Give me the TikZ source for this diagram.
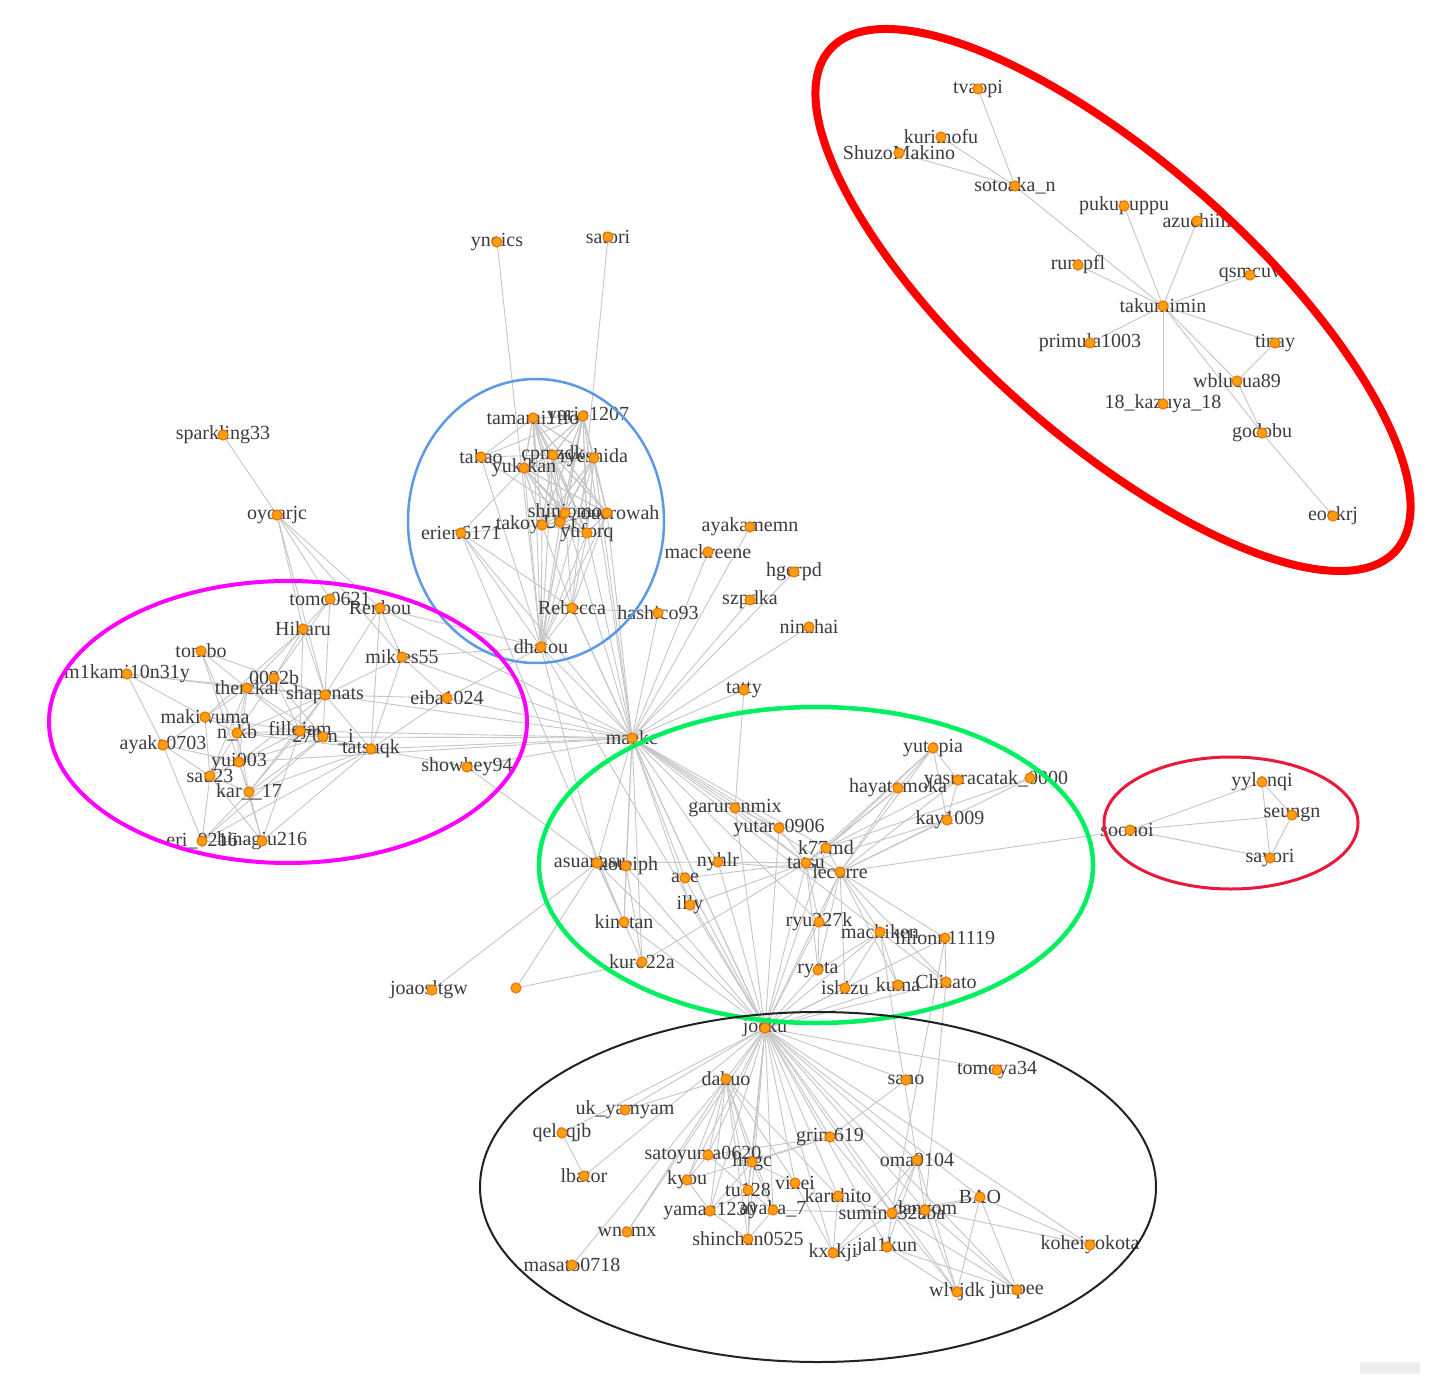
\documentclass[tikz,border=0pt]{standalone}
\usepackage{fontspec}
\setmainfont{Liberation Serif}
\definecolor{edgegray}{HTML}{C6C6C6}
\definecolor{lblgray}{HTML}{3C3C3C}
\definecolor{dotfill}{HTML}{FF9F10}
\definecolor{dotdraw}{HTML}{F07800}
\definecolor{bigred}{HTML}{FF0000}
\definecolor{smallred}{HTML}{E8193C}
\definecolor{bluec}{HTML}{5B9BE6}
\definecolor{magc}{HTML}{FF00FF}
\definecolor{greenc}{HTML}{00F060}
\definecolor{blackc}{HTML}{222222}
\tikzset{
  edge/.style={draw=edgegray, line width=0.9pt},
  lbl/.style={inner sep=0pt, text=lblgray, font=\fontsize{20}{20}\selectfont},
  dot/.style={circle, fill=dotfill, draw=dotdraw, line width=1.2pt, inner sep=0pt, minimum size=10pt},
  ring/.style={fill=none}
}
\begin{document}
\begin{tikzpicture}[x=1pt,y=-1pt]
\useasboundingbox (0,0) rectangle (1440,1396);
\fill[white] (0,0) rectangle (1440,1396);
% ---------- vertex positions ----------
\foreach \n/\x/\y in {
 tvaopi/978/89, kurimofu/941/137, shuzo/899/153, sotoaka/1015/186, pukupuppu/1124/206,
 azuchiiii/1197/221, rumpfl/1078/265, qsmcuv/1250/275, takumimin/1163/306, primula/1090/343,
 tinay/1275/343, wblucua/1237/381, kazuya/1163/404, godobu/1262/433, eoekrj/1333/516,
 ynoics/497/242, satori/608/237, tamami/533/418, yurio/583/416, takao/481/457, cpmzdk/553/455,
 ryoshida/594/458, yukikan/524/468, shinjo/565/513, ouerowah/607/513, takoy/542/525, uct/560/522,
 yuforq/587/533, erien/461/533, rebecca/572/608, hashico/658/613, dhatou/541/647,
 ayakamemn/750/527, mackreene/708/552, hgerpd/794/572, szpdka/750/600, ninzhai/809/627,
 tatty/744/690, maekc/632/738,
 sparkling/223/435, oyoarjc/277/515, tomo/330/599, renbou/380/608, hikaru/303/629, tombo/201/651,
 mikles/402/657, mkam/127/674, nb/274/678, therc/247/688, shapenats/325/695, eiba/447/698,
 makiwuma/205/717, nkb/237/733, fillojam/300/731, imtw/323/737, tatsuqk/371/749, ayakaa/163/745,
 yuri/239/762, showhey/467/767, sau/210/776, kar/249/792, eri/202/841, hinagi/262/841,
 yutopia/933/748, yasura/958/780, yzero/1030/778, hayato/898/788, kay/947/820, garurun/735/808,
 yutaro/779/828, kmd/826/848, tatsu/806/863, lecorre/840/872, nyhlr/718/862, asua/597/863,
 kotei/626/866, ane/685/878, illy/690/905, kinetan/624/922, ryu/819/922, machiken/880/932,
 lilionn/945/938, kuro/642/962, ryota/818/970, ishizu/845/988, kuma/898/985, chisato/946/982,
 joao/432/990, lone/516/988, jocku/765/1028,
 soonoi/1130/830, yylonqi/1262/782, seungn/1292/815, sayori/1270/858,
 tomoya/997/1070, dahuo/726/1079, sano/906/1080, ukyam/625/1110, qelaqjb/562/1133, grim/830/1137,
 satoyuma/708/1155, lingc/752/1162, oma/917/1160, lbator/584/1176, kyou/687/1180, vinei/795/1183,
 tu/748/1190, karuhito/838/1196, bao/980/1197, yaman/710/1211, ayakas/773/1210, sumino/892/1213,
 danyom/925/1210, wnamx/627/1232, shinchan/748/1239, kxskji/833/1253, jalkun/887/1247,
 kohei/1090/1245, masato/572/1265, wlvjdk/957/1292, junpee/1017/1290}
 {\coordinate (\n) at (\x,\y);}
% ---------- connectors ----------
% red cluster
\foreach \a/\b in {tvaopi/sotoaka, kurimofu/sotoaka, shuzo/sotoaka, sotoaka/takumimin,
 pukupuppu/takumimin, azuchiiii/takumimin, rumpfl/takumimin, qsmcuv/takumimin,
 primula/takumimin, tinay/takumimin, wblucua/takumimin, kazuya/takumimin, godobu/takumimin,
 tinay/wblucua, wblucua/godobu, godobu/eoekrj}
 {\draw[edge] (\a) -- (\b);}
% small red cluster
\foreach \a/\b in {soonoi/yylonqi, soonoi/seungn, soonoi/sayori, yylonqi/seungn,
 yylonqi/sayori, seungn/sayori, soonoi/lecorre}
 {\draw[edge] (\a) -- (\b);}
% blue cluster core
\foreach \a in {tamami,yurio,cpmzdk,ryoshida,yukikan,shinjo,ouerowah,takoy,uct,yuforq}
 {\foreach \b in {tamami,yurio,cpmzdk,ryoshida,yukikan,shinjo,ouerowah,takoy,uct,yuforq,dhatou}
   {\draw[edge] (\a) -- (\b);}}
\foreach \a/\b in {ynoics/dhatou, satori/rebecca, takao/cpmzdk, takao/yukikan, takao/shinjo,
 takao/yurio, takao/dhatou, takao/tamami, erien/takoy, erien/dhatou, erien/maekc, erien/rebecca,
 erien/yukikan, erien/kinetan, ouerowah/maekc, yuforq/maekc, shinjo/maekc, ryoshida/maekc,
 yurio/maekc, yuforq/rebecca, ouerowah/rebecca, takoy/rebecca, shinjo/rebecca,
 rebecca/hashico, rebecca/dhatou, rebecca/maekc, hashico/maekc, dhatou/maekc, dhatou/jocku,
 dhatou/asua, rebecca/jocku}
 {\draw[edge] (\a) -- (\b);}
% hub maekc
\foreach \b in {ayakamemn, mackreene, hgerpd, szpdka, ninzhai, tatty, garurun, yutaro, kmd,
 tatsu, lecorre, nyhlr, asua, kotei, kinetan, kuro, ane, illy, jocku, ryu, machiken, tatsuqk,
 shapenats, eiba, mikles, showhey, imtw, fillojam, yuri, renbou}
 {\draw[edge] (maekc) -- (\b);}
% magenta cluster
\foreach \a/\b in {sparkling/oyoarjc, oyoarjc/tomo, oyoarjc/hikaru, oyoarjc/renbou,
 oyoarjc/shapenats, oyoarjc/mikles, tomo/hikaru, tomo/renbou, tomo/shapenats, tomo/nb,
 renbou/mikles, renbou/shapenats, renbou/tatsuqk, renbou/dhatou, hikaru/therc, hikaru/shapenats,
 hikaru/nb, hikaru/makiwuma, hikaru/fillojam, tombo/therc, tombo/shapenats, tombo/nkb, tombo/yuri,
 mkam/therc, mkam/ayakaa, mkam/makiwuma, mkam/shapenats, nb/therc, nb/shapenats, nb/fillojam,
 nb/nkb, nb/imtw, therc/shapenats, therc/makiwuma, therc/nkb, therc/fillojam, therc/imtw,
 therc/yuri, therc/sau, shapenats/fillojam, shapenats/imtw, shapenats/tatsuqk, shapenats/nkb,
 shapenats/mikles, shapenats/eiba, shapenats/yuri, shapenats/kar, eiba/tatsuqk, makiwuma/nkb,
 makiwuma/ayakaa, makiwuma/fillojam, makiwuma/sau, nkb/fillojam, nkb/imtw, nkb/yuri, nkb/sau,
 nkb/kar, nkb/tatsuqk, fillojam/imtw, fillojam/tatsuqk, fillojam/yuri, fillojam/kar,
 fillojam/hinagi, imtw/tatsuqk, imtw/yuri, imtw/kar, imtw/eri, tatsuqk/kar, tatsuqk/hinagi,
 tatsuqk/eri, tatsuqk/showhey, ayakaa/sau, ayakaa/yuri, ayakaa/eri, yuri/sau, yuri/kar,
 yuri/hinagi, sau/kar, sau/eri, sau/hinagi, kar/eri, kar/hinagi, eri/hinagi, mikles/tatsuqk,
 mikles/eiba, mikles/dhatou, eiba/dhatou, showhey/asua}
 {\draw[edge] (\a) -- (\b);}
% green cluster
\foreach \b in {yutopia, hayato, yasura, yzero, kay, ryu, machiken, lilionn, ryota, ishizu,
 kuma, chisato, nyhlr, tatsu, kmd}
 {\draw[edge] (lecorre) -- (\b);}
\foreach \a/\b in {tatsu/yutopia, tatsu/hayato, tatsu/kay, tatsu/ane, tatsu/illy, tatsu/kuro,
 tatsu/ryu, tatsu/ryota, tatsu/garurun, tatsu/yutaro, tatsu/kmd, kmd/hayato, kmd/yasura,
 kmd/yzero, kmd/yutopia, yutopia/hayato, yutopia/yasura, yutopia/kay, yasura/kay,
 lilionn/chisato, machiken/chisato, machiken/kuma, machiken/ishizu, machiken/lilionn,
 machiken/ryota, ryu/ryota, asua/kotei, asua/kinetan, asua/nyhlr, asua/kuro, kotei/kuro,
 kotei/kinetan, nyhlr/tatsu, garurun/yutaro, tatty/garurun, joao/asua, lone/asua, lone/kuro}
 {\draw[edge] (\a) -- (\b);}
% hub jocku
\foreach \b in {tatsu, lecorre, kmd, nyhlr, ane, illy, asua, kotei, ryu, ryota, ishizu, kuma,
 chisato, machiken, garurun, yutaro, lilionn, kinetan, dahuo, ukyam, qelaqjb, grim, satoyuma,
 lingc, oma, kyou, vinei, tu, karuhito, bao, yaman, ayakas, sumino, danyom, shinchan, kxskji,
 jalkun, tomoya, kohei, wlvjdk, junpee, wnamx, lbator, sano}
 {\draw[edge] (jocku) -- (\b);}
% black cluster
\foreach \a/\b in {dahuo/satoyuma, dahuo/lingc, dahuo/kyou, dahuo/tu, dahuo/yaman,
 dahuo/shinchan, dahuo/ayakas, dahuo/vinei, dahuo/karuhito, dahuo/wnamx, dahuo/masato,
 dahuo/ukyam, grim/lingc, grim/satoyuma, grim/kyou, grim/sumino, grim/sano, oma/sumino,
 oma/danyom, oma/kxskji, oma/wlvjdk, oma/jalkun, bao/sumino, bao/danyom, bao/kohei, bao/wlvjdk,
 bao/junpee, sumino/danyom, sumino/jalkun, sumino/wlvjdk, sumino/junpee, sumino/karuhito,
 sumino/ayakas, danyom/kohei, danyom/junpee, danyom/wlvjdk, jalkun/wlvjdk, jalkun/junpee,
 kxskji/karuhito, kxskji/sumino, kxskji/vinei, lbator/qelaqjb, satoyuma/lingc, satoyuma/kyou,
 satoyuma/tu, lingc/tu, lingc/vinei, lingc/yaman, lingc/ayakas, tu/ayakas, tu/shinchan,
 tu/yaman, shinchan/yaman, shinchan/ayakas, kyou/yaman, lilionn/sumino, chisato/danyom,
 machiken/oma}
 {\draw[edge] (\a) -- (\b);}
% ---------- labels ----------
\foreach \n/\dx/\t in {
 tvaopi/0/tvaopi, kurimofu/0/kurimofu, shuzo/0/ShuzoMakino, sotoaka/0/sotoaka\_n,
 pukupuppu/0/pukupuppu, azuchiiii/0/azuchiiii, rumpfl/0/rumpfl, qsmcuv/0/qsmcuv,
 takumimin/0/takumimin, primula/0/primula1003, tinay/0/tinay, wblucua/0/wblucua89,
 kazuya/0/18\_kazuya\_18, godobu/0/godobu, eoekrj/0/eoekrj,
 ynoics/0/ynoics, satori/0/satori, tamami/0/tamami1ffo, yurio/5/yurio1207, takao/0/takao,
 cpmzdk/0/cpmzdk, ryoshida/0/ryeshida, yukikan/0/yukikan, shinjo/0/shinjomo,
 ouerowah/13/ouerowah, takoy/-24/takoy, uct/0/UCt, yuforq/0/yuforq, erien/0/erien6171,
 rebecca/0/Rebecca, hashico/0/hashico93, dhatou/0/dhatou, ayakamemn/0/ayakamemn,
 mackreene/0/mackreene, hgerpd/0/hgerpd, szpdka/0/szpdka, ninzhai/0/ninzhai, tatty/0/tatty,
 maekc/0/maekc,
 sparkling/0/sparkling33, oyoarjc/0/oyoarjc, tomo/0/tomo0621, renbou/0/Renbou, hikaru/0/Hikaru,
 tombo/0/tombo, mikles/0/mikles55, mkam/0/m1kami10n31y, nb/0/0092b, therc/0/therckal,
 shapenats/0/shapenats, eiba/0/eiba1024, makiwuma/0/makiwuma, nkb/0/n\_kb, fillojam/0/fillojam,
 imtw/0/270m\_i, tatsuqk/0/tatsuqk, ayakaa/0/ayaka0703, yuri/0/yui003, showhey/0/showhey94,
 sau/0/sau23, kar/0/kar\_\_17, eri/0/eri\_0216, hinagi/0/hinagiu216,
 yutopia/0/yutopia, yasura/38/yasuracatak\_0000, hayato/0/hayatomoka, kay/3/kay1009,
 garurun/0/garurunmix, yutaro/0/yutaro0906, kmd/0/k77md, tatsu/0/tatsu, lecorre/0/lecorre,
 nyhlr/0/nyhlr, asua/-7/asuanasu, kotei/2/koteiph, ane/0/ane, illy/0/illy, kinetan/0/kinetan,
 ryu/0/ryu227k, machiken/0/machiken, lilionn/0/lilionn11119, kuro/0/kuro22a, ryota/0/ryota,
 ishizu/0/ishizu, kuma/0/kuma, chisato/0/Chisato, joao/-3/joaosltgw, jocku/0/jocku,
 soonoi/-3/soonoi, yylonqi/0/yylonqi, seungn/0/seungn, sayori/0/sayori,
 tomoya/0/tomoya34, dahuo/0/dahuo, sano/0/sano, ukyam/0/uk\_yamyam, qelaqjb/0/qelaqjb,
 grim/0/grim619, satoyuma/-5/satoyuma0620, lingc/0/lingc, oma/0/oma9104, lbator/0/lbator,
 kyou/0/kyou, vinei/0/vinei, tu/0/tu128, karuhito/0/karuhito, bao/0/BAO, yaman/0/yaman1230,
 ayakas/0/ayaka\_7, sumino/0/sumino32aba, danyom/0/danyom, wnamx/0/wnamx,
 shinchan/0/shinchan0525, kxskji/0/kxskji, jalkun/0/jal1kun, kohei/0/koheiyokota,
 masato/0/masato0718, wlvjdk/0/wlvjdk, junpee/0/junpee}
 {\node[lbl] (\n-l) at ([xshift=\dx pt]\n) {\t};}
% ---------- dots ----------
\foreach \n in {tvaopi, kurimofu, shuzo, sotoaka, pukupuppu, azuchiiii, rumpfl, qsmcuv,
 takumimin, primula, tinay, wblucua, kazuya, godobu, eoekrj, ynoics, satori, tamami, yurio,
 takao, cpmzdk, ryoshida, yukikan, shinjo, ouerowah, takoy, uct, yuforq, erien, rebecca,
 hashico, dhatou, ayakamemn, mackreene, hgerpd, szpdka, ninzhai, tatty, maekc, sparkling,
 oyoarjc, tomo, renbou, hikaru, tombo, mikles, mkam, nb, therc, shapenats, eiba, makiwuma, nkb,
 fillojam, imtw, tatsuqk, ayakaa, yuri, showhey, sau, kar, eri, hinagi, yutopia, yasura, yzero,
 hayato, kay, garurun, yutaro, kmd, tatsu, lecorre, nyhlr, asua, kotei, ane, illy, kinetan, ryu,
 machiken, lilionn, kuro, ryota, ishizu, kuma, chisato, joao, lone, jocku, soonoi, yylonqi,
 seungn, sayori, tomoya, dahuo, sano, ukyam, qelaqjb, grim, satoyuma, lingc, oma, lbator, kyou,
 vinei, tu, karuhito, bao, yaman, ayakas, sumino, danyom, wnamx, shinchan, kxskji, jalkun,
 kohei, masato, wlvjdk, junpee}
 {\node[dot] (\n-d) at (\n) {};}
% ---------- cluster rings ----------
\coordinate (cR) at (1113,300);
\coordinate (cr) at (1231,823);
\coordinate (cB) at (536,521);
\coordinate (cM) at (288,722);
\coordinate (cG) at (816,865);
\coordinate (cK) at (818,1187);
\draw[ring, bigred, line width=8pt, rotate around={-41.5:(cR)}] (cR) ellipse [x radius=378, y radius=138];
\draw[ring, smallred, line width=3pt] (cr) ellipse [x radius=127, y radius=66];
\draw[ring, bluec, line width=2.5pt] (cB) ellipse [x radius=128, y radius=142];
\draw[ring, magc, line width=4pt] (cM) ellipse [x radius=239, y radius=141];
\draw[ring, greenc, line width=4.5pt] (cG) ellipse [x radius=277, y radius=158];
\draw[ring, blackc, line width=2pt] (cK) ellipse [x radius=338, y radius=175];
% small grey bar
\node[fill=black!7, inner sep=0pt, minimum width=60pt, minimum height=12pt] (bar) at (1390,1368) {};
\end{tikzpicture}
\end{document}
